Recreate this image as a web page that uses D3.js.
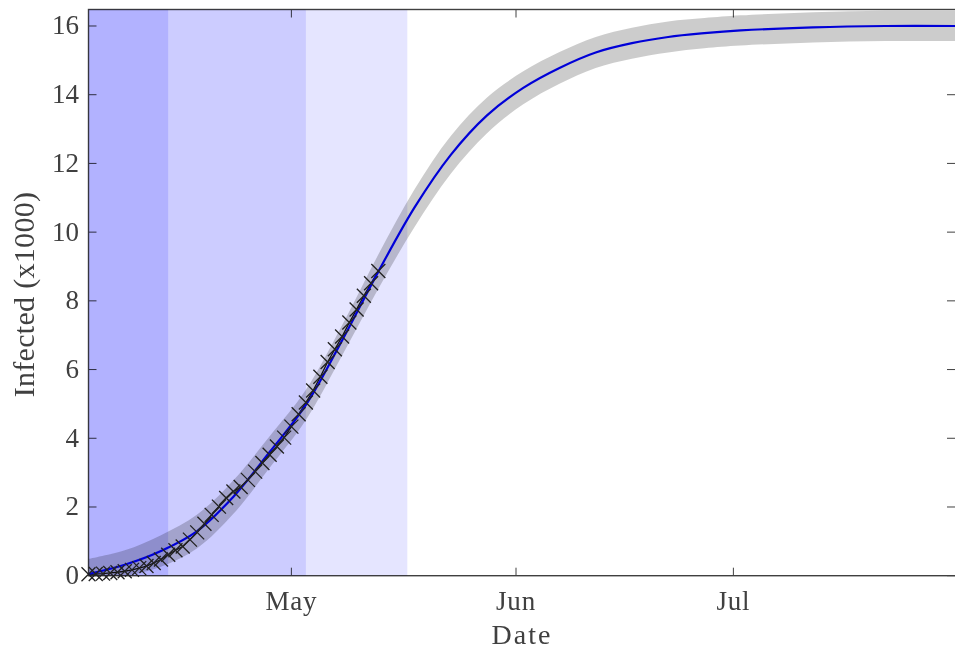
<!DOCTYPE html>
<html>
<head>
<meta charset="utf-8">
<script src="https://cdnjs.cloudflare.com/ajax/libs/d3/7.8.5/d3.min.js"></script>
<style>
    html, body { margin: 0; padding: 0; background: #fff; overflow: hidden; }
    svg { display: block; }
    text { font-family: "Liberation Serif", serif; fill: #404040; }
</style>
</head>
<body>
<div id="chart"></div>
<script>
// values, infected in thousands
const shadeStarts = ["2020-04-03", "2020-04-14", "2020-05-03"];
const shadeEnds = ["2020-04-14", "2020-05-03", "2020-05-17"];
const shadeColors = ["#b2b2ff", "#ccccff", "#e5e5ff"];

const curveDates = ["2020-04-03", "2020-04-08", "2020-04-13", "2020-04-18", "2020-04-23",
    "2020-04-28", "2020-05-03", "2020-05-08", "2020-05-13", "2020-05-18", "2020-05-23",
    "2020-05-28", "2020-06-02", "2020-06-07", "2020-06-12", "2020-06-17", "2020-06-22",
    "2020-06-27", "2020-07-02", "2020-07-12", "2020-07-22", "2020-08-01"];
const curveMid = [0.05, 0.32, 0.72, 1.3, 2.3,
    3.6, 4.97, 6.85, 8.85, 10.72, 12.25,
    13.4, 14.2, 14.78, 15.23, 15.5, 15.68,
    15.79, 15.87, 15.96, 16.0, 16.0];
const curveUpper = [0.49, 0.74, 1.18, 1.78, 2.78,
    4.06, 5.41, 7.29, 9.35, 11.25, 12.8,
    13.92, 14.68, 15.24, 15.68, 15.95, 16.13,
    16.23, 16.31, 16.4, 16.44, 16.44];
const curveLower = [0, 0, 0.26, 0.8, 1.8,
    3.14, 4.53, 6.41, 8.35, 10.15, 11.7,
    12.88, 13.72, 14.32, 14.78, 15.05, 15.23,
    15.35, 15.43, 15.52, 15.56, 15.56];

const caseStart = "2020-04-03"; // one cross per day from here
const caseValues = [0.04, 0.05, 0.06, 0.08, 0.1, 0.13, 0.17, 0.22, 0.28, 0.37, 0.47,
    0.61, 0.74, 0.85, 1.05, 1.26, 1.51, 1.77, 2.01, 2.26, 2.45, 2.58, 2.79, 3.03, 3.28,
    3.52, 3.76, 4.02, 4.34, 4.7, 5.04, 5.39, 5.79, 6.22, 6.59, 6.96, 7.37, 7.75, 8.15,
    8.51, 8.87];

const xTickDates = ["2020-05-01", "2020-06-01", "2020-07-01"];
const xTickLabels = ["May", "Jun", "Jul"];
const yTicks = [0, 2, 4, 6, 8, 10, 12, 14, 16];

const width = 955;
const height = 650;
// the right side of the box falls just outside the picture
const plot = { left: 88.5, right: 958, top: 9.5, bottom: 575.7 };
const rightTickEdge = 955;
const tickLen = 8;

const parseDate = d3.utcParse("%Y-%m-%d");

const x = d3.scaleUtc()
    .domain([parseDate("2020-04-03"), parseDate("2020-08-01")])
    .range([plot.left, plot.right]);
const y = d3.scaleLinear()
    .domain([0, 16.48])
    .range([plot.bottom, plot.top]);

const svg = d3.select("#chart").append("svg")
    .attr("width", width)
    .attr("height", height)
    .attr("viewBox", [0, 0, width, height]);

// box and ticks first, the shaded periods sit on top of them
const axisColor = "#404040";
const axes = svg.append("g")
    .attr("stroke", axisColor)
    .attr("fill", "none");

axes.append("rect")
    .attr("x", plot.left)
    .attr("y", plot.top)
    .attr("width", plot.right - plot.left)
    .attr("height", plot.bottom - plot.top)
    .attr("stroke-width", 1.4);

const xTicks = xTickDates.map(parseDate);
axes.selectAll(".xb").data(xTicks).join("line")
    .attr("class", "xb")
    .attr("x1", d => x(d)).attr("x2", d => x(d))
    .attr("y1", plot.bottom).attr("y2", plot.bottom - tickLen);
axes.selectAll(".xt").data(xTicks).join("line")
    .attr("class", "xt")
    .attr("x1", d => x(d)).attr("x2", d => x(d))
    .attr("y1", plot.top).attr("y2", plot.top + tickLen);
axes.selectAll(".yl").data(yTicks).join("line")
    .attr("class", "yl")
    .attr("x1", plot.left).attr("x2", plot.left + tickLen)
    .attr("y1", d => y(d)).attr("y2", d => y(d));
axes.selectAll(".yr").data(yTicks).join("line")
    .attr("class", "yr")
    .attr("x1", rightTickEdge - tickLen).attr("x2", rightTickEdge)
    .attr("y1", d => y(d)).attr("y2", d => y(d));

// shaded periods
svg.append("g").selectAll("rect")
    .data(shadeStarts)
    .join("rect")
    .attr("x", d => x(parseDate(d)))
    .attr("y", plot.top)
    .attr("width", (d, i) => x(parseDate(shadeEnds[i])) - x(parseDate(d)))
    .attr("height", plot.bottom - plot.top)
    .attr("fill", (d, i) => shadeColors[i])
    .style("mix-blend-mode", "multiply");

// keep the smoothed band from dipping under zero
svg.append("clipPath")
    .attr("id", "plot-clip")
    .append("rect")
    .attr("x", plot.left)
    .attr("y", plot.top)
    .attr("width", plot.right - plot.left)
    .attr("height", plot.bottom - plot.top);

// uncertainty band
const curveTimes = curveDates.map(parseDate);
const band = d3.area()
    .x((d, i) => x(curveTimes[i]))
    .y0((d, i) => y(curveLower[i]))
    .y1((d, i) => y(curveUpper[i]))
    .curve(d3.curveCatmullRom);

svg.append("path")
    .datum(curveTimes)
    .attr("d", band)
    .attr("clip-path", "url(#plot-clip)")
    .attr("fill", "#000")
    .attr("fill-opacity", 0.2);

// daily cases, joined up under the fit
const caseStartTime = parseDate(caseStart);
const caseX = (d, i) => x(d3.utcDay.offset(caseStartTime, i));

svg.append("path")
    .datum(caseValues)
    .attr("d", d3.line().x(caseX).y(d => y(d)))
    .attr("fill", "none")
    .attr("stroke", "#111")
    .attr("stroke-width", 1.3);

// fitted curve
const line = d3.line()
    .x((d, i) => x(curveTimes[i]))
    .y(d => y(d))
    .curve(d3.curveCatmullRom);

svg.append("path")
    .datum(curveMid)
    .attr("d", line)
    .attr("fill", "none")
    .attr("stroke", "#0000d8")
    .attr("stroke-width", 2.2);

// crosses
const caseSize = 7;
svg.append("g")
    .selectAll("path")
    .data(caseValues)
    .join("path")
    .attr("transform", (d, i) => `translate(${caseX(d, i)},${y(d)})`)
    .attr("d", `M${-caseSize},${-caseSize}L${caseSize},${caseSize}M${-caseSize},${caseSize}L${caseSize},${-caseSize}`)
    .attr("fill", "none")
    .attr("stroke", "#222")
    .attr("stroke-width", 1.3);

// tick labels
svg.append("g")
    .attr("text-anchor", "end")
    .style("font-size", "27px")
    .selectAll("text")
    .data(yTicks)
    .join("text")
    .attr("x", 79)
    .attr("y", d => y(d) + 8.5)
    .text(d => d);

svg.append("g")
    .attr("text-anchor", "middle")
    .style("font-size", "27px")
    .style("letter-spacing", "0.8px")
    .selectAll("text")
    .data(xTicks)
    .join("text")
    .attr("x", d => x(d))
    .attr("y", 610)
    .text((d, i) => xTickLabels[i]);

// axis titles
svg.append("text")
    .attr("x", 522)
    .attr("y", 644)
    .attr("text-anchor", "middle")
    .style("font-size", "28px")
    .style("letter-spacing", "2px")
    .text("Date");

svg.append("text")
    .attr("transform", "translate(33.5,294.5) rotate(-90)")
    .attr("text-anchor", "middle")
    .style("font-size", "30px")
    .style("letter-spacing", "0.3px")
    .text("Infected (x1000)");
</script>
</body>
</html>
